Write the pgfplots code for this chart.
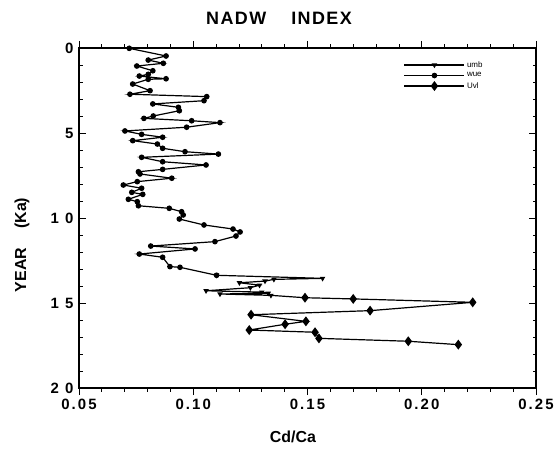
\documentclass[border=0pt]{standalone}
\usepackage{fontspec}
\setmainfont{Liberation Sans}
\newfontfamily\tickfont[LetterSpace=14]{Liberation Sans}
\newfontfamily\titlefont[LetterSpace=8]{Liberation Sans}
\usepackage{pgfplots}
\pgfplotsset{compat=1.18}
\begin{document}
\begin{tikzpicture}[x=1bp,y=1bp]
\begin{axis}[
  at={(79bp,63bp)}, anchor=south west,
  scale only axis, width=457bp, height=340bp,
  xmin=0.05, xmax=0.25, ymin=0, ymax=20, y dir=reverse,
  xtick={0.05,0.10,0.15,0.20,0.25},
  xticklabels={0.05,0.10,0.15,0.20,0.25},
  ytick={0,5,10,15,20},
  yticklabels={0,5,1 0,1 5,2 0},
  minor x tick num=4, minor y tick num=4,
  xtick align=outside, ytick align=inside,
  major tick length=7bp, minor tick length=3.5bp,
  tick style={black, line width=0.8bp},
  axis line style={line width=1.1bp},
  xticklabel style={font=\tickfont\bfseries\fontsize{15}{15}\selectfont, yshift=-1bp},
  yticklabel style={font=\tickfont\bfseries\fontsize{15}{15}\selectfont, xshift=-2bp},
  legend style={draw=none, fill=none, at={(0.89,0.97)}, anchor=north east,
     font=\fontsize{8}{9}\selectfont, row sep=0bp, inner sep=1bp},
  legend cell align=left,
  legend image code/.code={\draw[mark repeat=2,mark phase=2,#1] plot coordinates {(0bp,0bp) (30bp,0bp) (60bp,0bp)};},
  every axis plot/.append style={black, line width=1.2bp},
]
\addplot[mark=triangle*, mark size=2bp, mark options={rotate=180, solid}] coordinates {
(0.1102,13.37) (0.1566,13.55) (0.1353,13.61) (0.1314,13.71) (0.1202,13.81) (0.1290,13.95) (0.1250,14.10)
(0.1056,14.28) (0.1300,14.36) (0.1328,14.43) (0.1117,14.47) (0.1340,14.55) (0.1489,14.69)
};
\addlegendentry{umb}
\addplot[mark=*, mark size=2.2bp] coordinates {
(0.0720,0.02) (0.0881,0.47) (0.0803,0.71) (0.0869,0.90) (0.0753,1.06) (0.0823,1.34)
(0.0803,1.55) (0.0764,1.65) (0.0881,1.81) (0.0803,1.84) (0.0735,2.12) (0.0811,2.51)
(0.0723,2.72) (0.1059,2.86) (0.1047,3.10) (0.0823,3.29) (0.0935,3.49) (0.0939,3.69)
(0.0825,4.00) (0.0784,4.14) (0.0993,4.28) (0.1117,4.39) (0.0971,4.66) (0.0701,4.88)
(0.0774,5.08) (0.0866,5.25) (0.0735,5.45) (0.0843,5.65) (0.0866,5.90) (0.0964,6.10)
(0.1110,6.24) (0.0774,6.43) (0.0866,6.69) (0.1056,6.88) (0.0866,7.14) (0.0760,7.28)
(0.0767,7.41) (0.0906,7.66) (0.0755,7.86) (0.0694,8.06) (0.0774,8.25) (0.0731,8.49)
(0.0779,8.61) (0.0716,8.90) (0.0755,9.04) (0.0760,9.28) (0.0895,9.43) (0.0949,9.63)
(0.0956,9.82) (0.0939,10.06) (0.1047,10.41) (0.1174,10.65) (0.1205,10.82) (0.1187,11.06)
(0.1095,11.39) (0.0814,11.65) (0.1008,11.82) (0.0764,12.12) (0.0866,12.31) (0.0898,12.86)
(0.0942,12.90) (0.1102,13.37)
};
\addlegendentry{wue}
\addplot[mark=diamond*, mark size=4bp] coordinates {
(0.1489,14.69) (0.1700,14.76) (0.2223,14.96) (0.1774,15.45) (0.1253,15.69) (0.1493,16.08)
(0.1402,16.25) (0.1245,16.59) (0.1533,16.72) (0.1550,17.08) (0.1941,17.25) (0.2160,17.45)
};
\addlegendentry{Uvl}
\end{axis}
\node[font=\titlefont\bfseries\fontsize{18}{18}\selectfont] at (279bp,433bp) {NADW\hspace{1.4em}INDEX};
\node[font=\bfseries\fontsize{16}{16}\selectfont] at (293bp,14bp) {Cd/Ca};
\node[font=\bfseries\fontsize{16}{16}\selectfont, rotate=90] at (22bp,206bp) {YEAR\hspace{1.2em}(Ka)};
\pgfresetboundingbox
\path (0bp,0bp) rectangle (559bp,451bp);
\end{tikzpicture}
\end{document}
